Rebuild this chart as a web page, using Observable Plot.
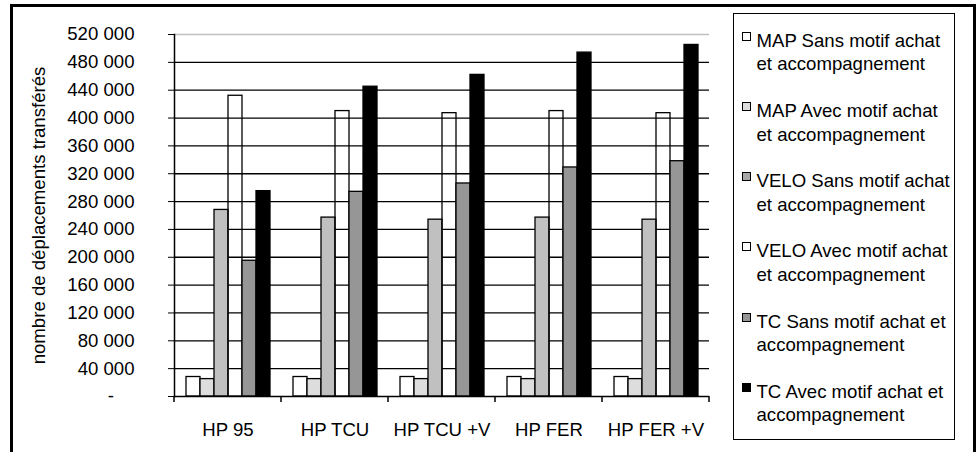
<!DOCTYPE html>
<html><head><meta charset="utf-8">
<script src="https://cdn.jsdelivr.net/npm/d3@7"></script>
<script src="https://cdn.jsdelivr.net/npm/@observablehq/plot@0.6"></script>
<style>
html,body{margin:0;padding:0;background:#fff;}
#page{position:relative;width:978px;height:452px;overflow:hidden;font-family:"Liberation Sans",Arial,sans-serif;}
#chart{position:absolute;left:0;top:0;}
#frame{position:absolute;left:10px;top:4px;width:960px;height:480px;border:3px solid #000;pointer-events:none;}
#legend{position:absolute;left:733px;top:13px;width:222px;height:427px;border:1.5px solid #000;background:#fff;box-sizing:border-box;}
.item{position:absolute;left:0;width:100%;}
.sw{position:absolute;left:7.5px;top:3px;width:7px;height:7px;border:1px solid #000;}
.lab{position:absolute;left:22.5px;top:0;width:197px;font-size:18.6px;line-height:23.5px;color:#000;}
</style>
</head>
<body>
<div id="page">
  <div id="chart"></div>
  <div id="legend"></div>
  <div id="frame"></div>
</div>
<script>
// ---- data ----
const groups = ["HP 95", "HP TCU", "HP TCU +V", "HP FER", "HP FER +V"];
const series = [
  "MAP Sans motif achat et accompagnement",
  "MAP Avec motif achat et accompagnement",
  "VELO Sans motif achat et accompagnement",
  "VELO Avec motif achat et accompagnement",
  "TC Sans motif achat et accompagnement",
  "TC Avec motif achat et accompagnement"
];
const mapSans  = [28000, 28000, 28000, 28000, 28000];
const mapAvec  = [25000, 25000, 25000, 25000, 25000];
const veloSans = [268000, 257000, 254000, 257000, 254000];
const veloAvec = [432000, 410000, 407000, 410000, 407000];
const tcSans   = [195000, 294000, 306000, 329000, 338000];
const tcAvec   = [295000, 445000, 462000, 494000, 505000];
const yTicks = [0, 40000, 80000, 120000, 160000, 200000, 240000, 280000, 320000, 360000, 400000, 440000, 480000, 520000];
const yLabel = "nombre de déplacements transférés";
const barFills = ["#ffffff", "#dddddd", "#c0c0c0", "none", "#969696", "#000000"];
const swatchFills = ["#ffffff", "#dddddd", "#a8a8a8", "#ffffff", "#969696", "#000000"];

const values = [mapSans, mapAvec, veloSans, veloAvec, tcSans, tcAvec];
const data = groups.flatMap((g, i) => series.map((s, j) => ({group: g, series: s, value: values[j][i]})));

const fmt = d => d === 0 ? "-\u2007\u2007" : d3.format(",")(d).replace(/,/g, " ");

const plot = Plot.plot({
  width: 978,
  height: 452,
  marginLeft: 173,
  marginRight: 269,
  marginTop: 34,
  marginBottom: 56,
  style: {fontFamily: "'Liberation Sans', Arial, sans-serif", fontSize: "18.6px", color: "#000", background: "transparent", overflow: "visible"},
  fx: {domain: groups, padding: 0, label: null, axis: "bottom", tickSize: 0, tickPadding: 26},
  x: {domain: series, paddingInner: 0, paddingOuter: 0.7, axis: null},
  y: {domain: [0, 520000], ticks: yTicks, tickFormat: fmt, tickSize: 6, tickPadding: 34,
      label: yLabel, labelAnchor: "center", labelOffset: 143, labelArrow: "none"},
  color: {domain: series, range: barFills},
  marks: [
    Plot.gridY(yTicks.filter(d => d > 0 && d < 520000), {stroke: "#000", strokeOpacity: 1, strokeWidth: 1.3}),
    Plot.gridY([520000], {stroke: "#c0c0c0", strokeOpacity: 1, strokeWidth: 1.3}),
    Plot.barY(data, {fx: "group", x: "series", y: "value", fill: "series", stroke: "#000", strokeWidth: 1.3}),
    Plot.ruleY([0], {stroke: "#000", strokeWidth: 1.5}),
    Plot.frame({anchor: "left", facetAnchor: "left", stroke: "#000", strokeWidth: 1.5})
  ]
});
document.getElementById("chart").appendChild(plot);

// boundary ticks under the category axis, placed with Plot's own fx / y scales
const fxS = plot.scale("fx");
const yS = plot.scale("y");
const y0 = yS.apply(0);
const bounds = groups.map(g => fxS.apply(g)).concat([fxS.apply(groups[groups.length - 1]) + fxS.bandwidth]);
d3.select(plot).append("g").selectAll("line").data(bounds).join("line")
  .attr("x1", d => d).attr("x2", d => d).attr("y1", y0).attr("y2", y0 + 6)
  .attr("stroke", "#000").attr("stroke-width", 1.5);

// legend
const legend = d3.select("#legend");
const items = legend.selectAll(".item").data(series).join("div").attr("class", "item")
  .style("top", (d, i) => (14.8 + 70.2 * i) + "px");
items.append("div").attr("class", "sw").style("background", (d, i) => swatchFills[i]);
items.append("div").attr("class", "lab").text(d => d);
</script>
</body></html>
